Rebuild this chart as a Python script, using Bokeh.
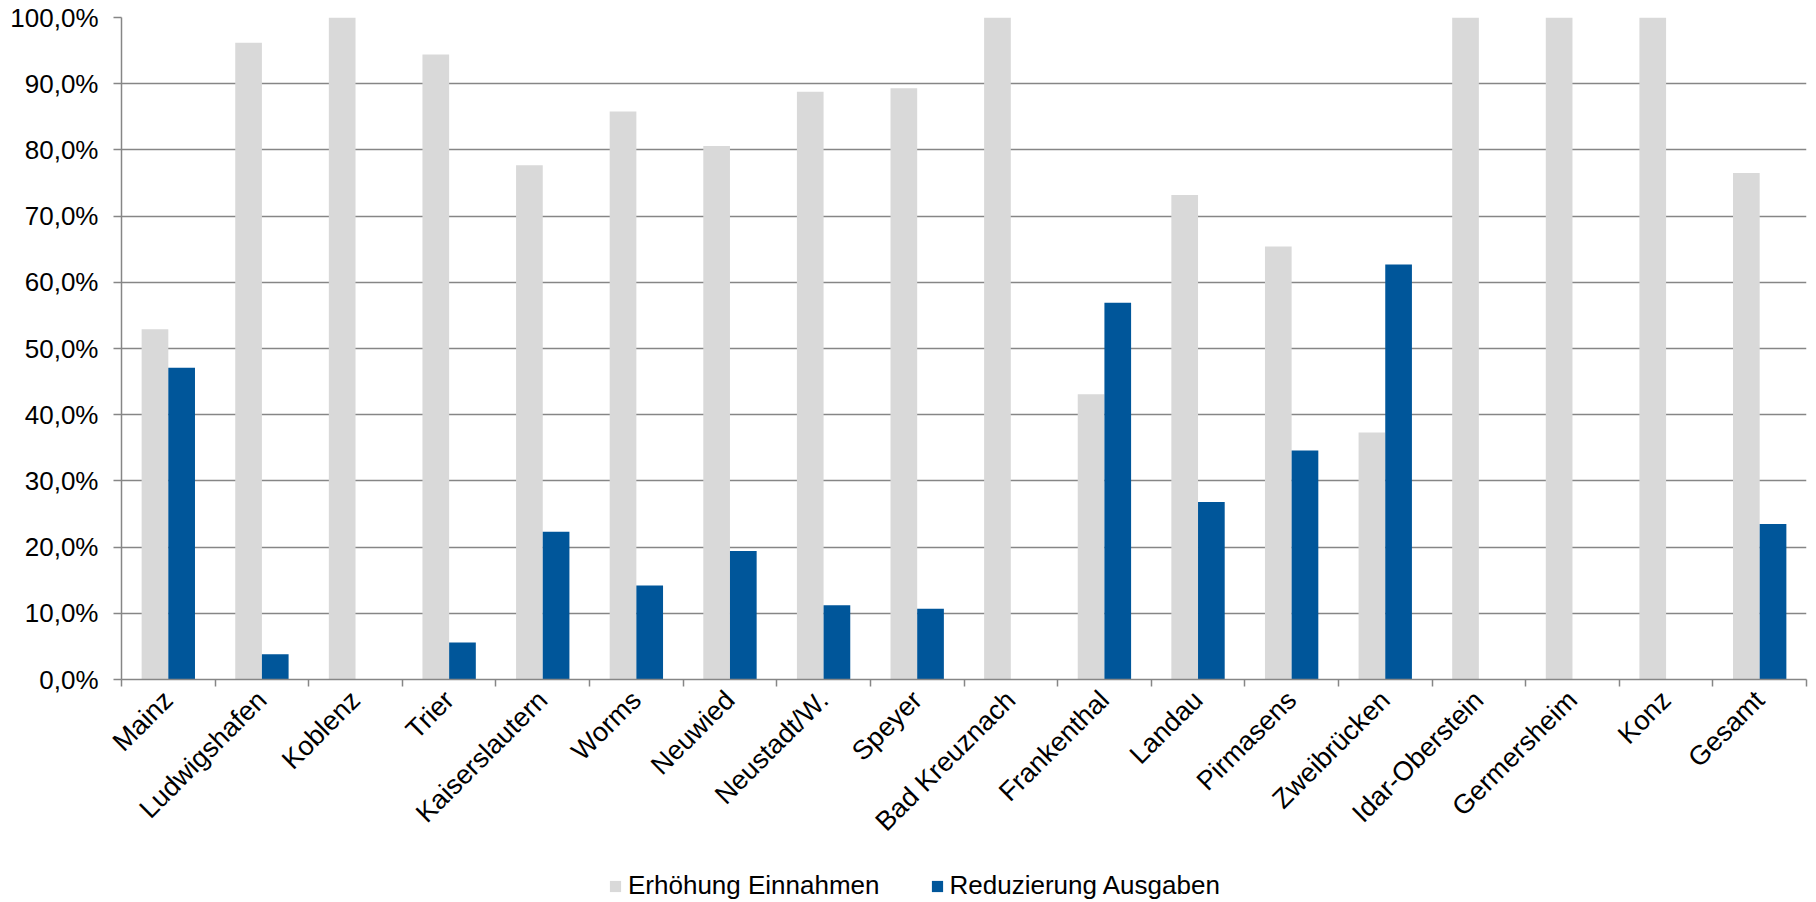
import numpy as np
from bokeh.plotting import figure
from bokeh.layouts import column
from bokeh.models import (ColumnDataSource, FixedTicker, CustomJSTickFormatter,
                          Legend, LegendItem, Range1d)
from bokeh.transform import dodge
from bokeh.embed import file_html
from bokeh.resources import INLINE

# Städte und Anteile (in Prozent)
staedte = ["Mainz", "Ludwigshafen", "Koblenz", "Trier", "Kaiserslautern", "Worms",
           "Neuwied", "Neustadt/W.", "Speyer", "Bad Kreuznach", "Frankenthal",
           "Landau", "Pirmasens", "Zweibrücken", "Idar-Oberstein", "Germersheim",
           "Konz", "Gesamt"]
erhoehung_einnahmen = [52.9, 96.2, 100.0, 94.4, 77.7, 85.8, 80.6, 88.8, 89.3, 100.0,
                       43.1, 73.2, 65.4, 37.3, 100.0, 100.0, 100.0, 76.5]
reduzierung_ausgaben = [47.1, 3.8, 0.0, 5.6, 22.3, 14.2, 19.4, 11.2, 10.7, 0.0,
                        56.9, 26.8, 34.6, 62.7, 0.0, 0.0, 0.0, 23.5]
serien = ["Erhöhung Einnahmen", "Reduzierung Ausgaben"]
y_ticks = [0, 10, 20, 30, 40, 50, 60, 70, 80, 90, 100]

FONT = "Liberation Sans"
GREY = "#d9d9d9"
BLUE = "#00569a"
LINE = "#868686"

n = len(staedte)
src = ColumnDataSource(dict(
    x=np.arange(n) + 0.5,
    ein=erhoehung_einnahmen,
    aus=reduzierung_ausgaben,
))

p = figure(width=1816, height=850, output_backend="svg", toolbar_location=None,
           x_range=Range1d(0, n), y_range=Range1d(0, 100),
           min_border_left=121, min_border_right=10, min_border_top=17,
           min_border_bottom=168)
p.outline_line_color = None

bw = 0.285
p.vbar(x=dodge("x", -bw / 2, range=p.x_range), top="ein", width=bw, bottom=0,
       source=src, fill_color=GREY, line_color=None)
p.vbar(x=dodge("x", bw / 2, range=p.x_range), top="aus", width=bw, bottom=0,
       source=src, fill_color=BLUE, line_color=None)

# y-Achse
p.yaxis.ticker = FixedTicker(ticks=y_ticks)
p.yaxis.formatter = CustomJSTickFormatter(
    code="return tick.toFixed(1).replace('.', ',') + '%';")
p.yaxis.major_label_text_font = FONT
p.yaxis.major_label_text_font_size = "26px"
p.yaxis.major_label_text_color = "black"
p.yaxis.major_label_standoff = 15
p.yaxis.axis_line_color = LINE
p.yaxis.axis_line_width = 1.5
p.yaxis.major_tick_line_color = LINE
p.yaxis.major_tick_line_width = 1.5
p.yaxis.major_tick_out = 8
p.yaxis.major_tick_in = 0
p.yaxis.minor_tick_line_color = None

# x-Achse: Beschriftung mittig, Striche an den Kategoriegrenzen
p.xaxis.ticker = FixedTicker(ticks=list(np.arange(n) + 0.5),
                             minor_ticks=list(range(n + 1)))
p.xaxis.formatter = CustomJSTickFormatter(
    args=dict(names=staedte), code="return names[Math.floor(tick)];")
p.xaxis.major_label_orientation = np.pi / 4
p.xaxis.major_label_text_font = FONT
p.xaxis.major_label_text_font_size = "27px"
p.xaxis.major_label_text_color = "black"
p.xaxis.major_label_standoff = 9
p.xaxis.major_tick_line_color = None
p.xaxis.major_tick_out = 0
p.xaxis.major_tick_in = 0
p.xaxis.minor_tick_line_color = LINE
p.xaxis.minor_tick_line_width = 1.5
p.xaxis.minor_tick_out = 7
p.xaxis.minor_tick_in = 0
p.xaxis.axis_line_color = LINE
p.xaxis.axis_line_width = 1.5

p.xgrid.grid_line_color = None
p.ygrid.grid_line_color = LINE
p.ygrid.grid_line_width = 1.5

# Legendenzeile unter dem Diagramm (Rahmen wird an dem des Diagramms ausgerichtet)
leg = figure(width=1816, height=52, output_backend="svg", toolbar_location=None,
             x_range=Range1d(0, 1), y_range=Range1d(0, 1),
             min_border_left=121, min_border_right=10, min_border_top=0,
             min_border_bottom=0)
leg.axis.visible = False
leg.grid.visible = False
leg.outline_line_color = None
leer = ColumnDataSource(dict(x=[np.nan], top=[np.nan]))
g1 = leg.vbar(x="x", top="top", width=1, source=leer, fill_color=GREY, line_color=None)
g2 = leg.vbar(x="x", top="top", width=1, source=leer, fill_color=BLUE, line_color=None)
legend = Legend(items=[LegendItem(label=serien[0], renderers=[g1]),
                       LegendItem(label=serien[1], renderers=[g2])],
                orientation="horizontal", location=(487, 1),
                border_line_color=None, background_fill_alpha=0,
                padding=0, margin=0, spacing=50,
                glyph_width=14, glyph_height=14, label_standoff=6,
                label_height=26, label_text_color="black",
                label_text_font=FONT, label_text_font_size="26px")
leg.add_layout(legend, "center")

open("out.html", "w").write(file_html(column(p, leg), INLINE))
